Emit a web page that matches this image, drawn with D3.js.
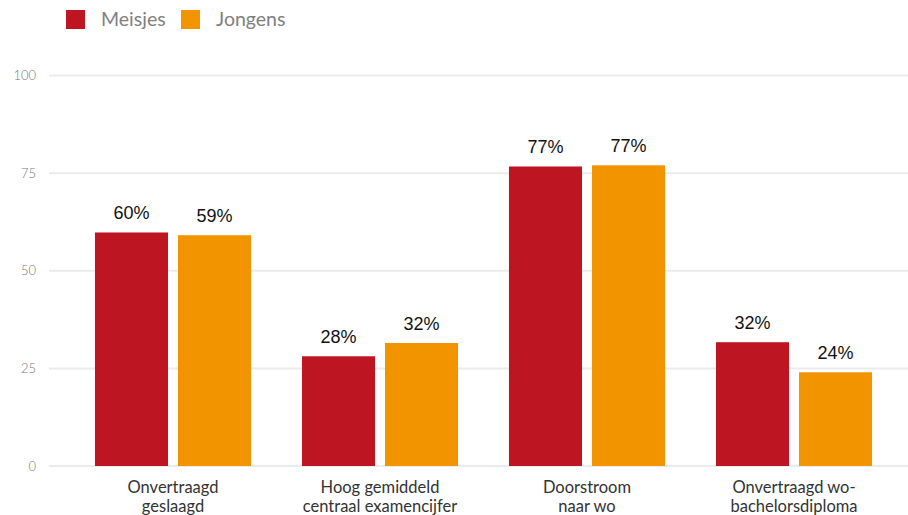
<!DOCTYPE html>
<html>
<head>
<meta charset="utf-8">
<script src="https://cdn.jsdelivr.net/npm/d3@7"></script>
<style>
  body { margin: 0; background: #fff; }
  svg { display: block; }
</style>
</head>
<body>
<svg id="chart" width="908" height="515"></svg>
<script>
// Data
const categories = [
    ["Onvertraagd", "geslaagd"],
    ["Hoog gemiddeld", "centraal examencijfer"],
    ["Doorstroom", "naar wo"],
    ["Onvertraagd wo-", "bachelorsdiploma"]
];
const seriesNames = ["Meisjes", "Jongens"];
const meisjes = [59.8, 28.1, 76.7, 31.7];
const jongens = [59.1, 31.5, 77.0, 24.0];
const yTicks = [0, 25, 50, 75, 100];
const colors = ["#be1522", "#f29400"];

const svg = d3.select("#chart");
const margin = { top: 75.5, bottom: 49, left: 49, right: 0 },
    width = 908, height = 515;

const y = d3.scaleLinear()
    .domain([0, 100])
    .range([height - margin.bottom, margin.top]);

const x0 = d3.scaleBand()
    .domain(d3.range(categories.length))
    .range([69.5, 897.5])
    .paddingInner(0.246)
    .paddingOuter(0.123);

const x1 = d3.scaleBand()
    .domain(d3.range(seriesNames.length))
    .range([0, x0.bandwidth()])
    .paddingInner(0.12);

// Gridlines + tick labels
const grid = svg.append("g");
grid.selectAll("line")
    .data(yTicks)
    .join("line")
        .attr("x1", margin.left)
        .attr("x2", width)
        .attr("y1", d => y(d))
        .attr("y2", d => y(d))
        .attr("stroke", "#ebebeb")
        .attr("stroke-width", 2);
grid.selectAll("text")
    .data(yTicks)
    .join("text")
        .attr("x", 36)
        .attr("y", d => y(d))
        .attr("dy", "0.35em")
        .attr("text-anchor", "end")
        .style("font-family", "Lato, 'Open Sans', sans-serif")
        .style("font-weight", 300)
        .style("font-size", "13px")
        .style("fill", "#777")
        .text(d => d);

// Bars
const rows = categories.map((c, i) => [meisjes[i], jongens[i]]);
const groups = svg.append("g")
    .selectAll("g")
    .data(rows)
    .join("g")
        .attr("transform", (d, i) => `translate(${x0(i)},0)`);

groups.selectAll("rect")
    .data(d => d)
    .join("rect")
        .attr("x", (d, j) => x1(j))
        .attr("width", x1.bandwidth())
        .attr("y", d => y(d))
        .attr("height", d => y(0) - y(d))
        .attr("fill", (d, j) => colors[j]);

groups.selectAll("text")
    .data(d => d)
    .join("text")
        .attr("x", (d, j) => x1(j) + x1.bandwidth() / 2)
        .attr("y", d => y(d) - 13)
        .attr("text-anchor", "middle")
        .style("font-family", "'Liberation Sans', Arial, sans-serif")
        .style("font-size", "18px")
        .style("fill", "#111")
        .text(d => Math.round(d) + "%");

// Category labels
const catLabels = svg.append("g")
    .selectAll("text")
    .data(categories)
    .join("text")
        .attr("text-anchor", "middle")
        .attr("transform", (d, i) => `translate(${x0(i) + x0.bandwidth() / 2},493)`)
        .style("font-family", "Lato, 'Open Sans', sans-serif")
        .style("font-size", "16.5px")
        .style("fill", "#333");
catLabels.selectAll("tspan")
    .data(d => d)
    .join("tspan")
        .attr("x", 0)
        .attr("dy", (d, k) => k === 0 ? 0 : 19)
        .text(d => d);

// Legend
const legendX = [66, 181];
const legend = svg.append("g")
    .selectAll("g")
    .data(seriesNames)
    .join("g")
        .attr("transform", (d, i) => `translate(${legendX[i]},10)`);
legend.append("rect")
    .attr("width", 19)
    .attr("height", 19)
    .attr("fill", (d, i) => colors[i]);
legend.append("text")
    .attr("x", 35)
    .attr("y", 9.5)
    .attr("dy", "0.35em")
    .style("font-family", "Lato, 'Open Sans', sans-serif")
    .style("font-size", "19.5px")
    .style("fill", "#808080")
    .text(d => d);
</script>
</body>
</html>
